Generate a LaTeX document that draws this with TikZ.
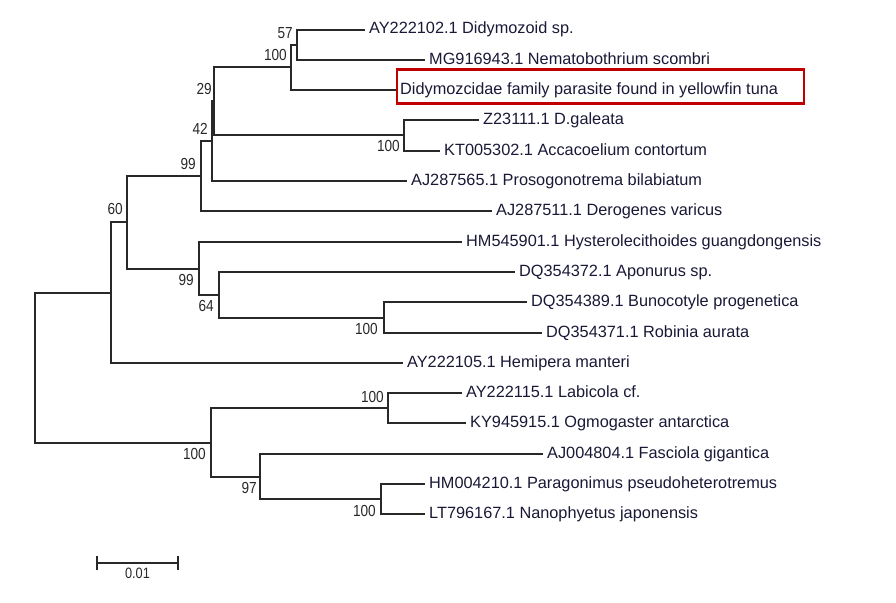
\documentclass[tikz,border=0pt]{standalone}
\usepackage{fontspec}
\setmainfont{Liberation Sans}
\newfontfamily\bsfont[FakeStretch=0.85]{Liberation Sans}
\usetikzlibrary{positioning}
\definecolor{treeline}{RGB}{40,40,40}
\definecolor{taxon}{RGB}{25,25,55}
\definecolor{hlred}{RGB}{192,0,0}

\begin{document}
\begin{tikzpicture}[
  x=1pt, y=-1pt,
  branch/.style={draw=treeline, line width=1.8pt},
  leaf/.style={
    anchor=west,
    inner xsep=4pt,
    inner ysep=0pt,
    text=taxon,
    font=\fontsize{16.3}{19}\selectfont,
    text height=11pt,
    text depth=3pt
  },
  bs/.style={
    inner sep=0pt,
    text=treeline,
    font=\bsfont\fontsize{16}{18}\selectfont,
    text height=11.5pt,
    text depth=0pt
  },
  hlbox/.style={
    draw=hlred,
    line width=2.6pt,
    minimum width=407pt,
    minimum height=34pt,
    inner sep=0pt
  }
]
\useasboundingbox (0,0) rectangle (896,602);

% -------- Internal nodes --------
\coordinate (root) at (35,367);
\coordinate (nK) at (111,293);
\coordinate (nG) at (127,222);
\coordinate (nF) at (201,176);
\coordinate (nE) at (212,141);
\coordinate (nC) at (214,101);
\coordinate (nB) at (291,67);
\coordinate (nA) at (297,45);
\coordinate (nD) at (404,135);
\coordinate (nH) at (199,269);
\coordinate (nI) at (219,295);
\coordinate (nJ) at (384,318);
\coordinate (nL) at (211,443);
\coordinate (nM) at (388,408);
\coordinate (nN) at (260,477);
\coordinate (nO) at (381,499);

% -------- Taxa --------
\node[leaf] (l1) at (365,30) {AY222102.1 Didymozoid sp.};
\node[leaf] (l2) at (425,60) {MG916943.1 Nematobothrium scombri};
\node[leaf] (l3) at (396,90) {Didymozcidae family parasite found in yellowfin tuna};
\node[leaf] (l4) at (479,120) {Z23111.1 D.galeata};
\node[leaf] (l5) at (440,151) {KT005302.1 Accacoelium contortum};
\node[leaf] (l6) at (407,181) {AJ287565.1 Prosogonotrema bilabiatum};
\node[leaf] (l7) at (492,211) {AJ287511.1 Derogenes varicus};
\node[leaf] (l8) at (462,242) {HM545901.1 Hysterolecithoides guangdongensis};
\node[leaf] (l9) at (515,272) {DQ354372.1 Aponurus sp.};
\node[leaf] (l10) at (527,302) {DQ354389.1 Bunocotyle progenetica};
\node[leaf] (l11) at (542,333) {DQ354371.1 Robinia aurata};
\node[leaf] (l12) at (403,363) {AY222105.1 Hemipera manteri};
\node[leaf] (l13) at (462,393) {AY222115.1 Labicola cf.};
\node[leaf] (l14) at (466,423) {KY945915.1 Ogmogaster antarctica};
\node[leaf] (l15) at (543,454) {AJ004804.1 Fasciola gigantica};
\node[leaf] (l16) at (425,484) {HM004210.1 Paragonimus pseudoheterotremus};
\node[leaf] (l17) at (425,514) {LT796167.1 Nanophyetus japonensis};

% -------- Branches --------
\draw[branch] (root) |- (nK);
\draw[branch] (root) |- (nL);
\draw[branch] (nK) |- (nG);
\draw[branch] (nK) |- (l12.west);
\draw[branch] (nG) |- (nF);
\draw[branch] (nG) |- (nH);
\draw[branch] (nF) |- (nE);
\draw[branch] (nF) |- (l7.west);
\draw[branch] (nE) |- (nC);
\draw[branch] (nE) |- (l6.west);
\draw[branch] (nC) |- (nB);
\draw[branch] (nC) |- (nD);
\draw[branch] (nB) |- (nA);
\draw[branch] (nB) |- (l3.west);
\draw[branch] (nA) |- (l1.west);
\draw[branch] (nA) |- (l2.west);
\draw[branch] (nD) |- (l4.west);
\draw[branch] (nD) |- (l5.west);
\draw[branch] (nH) |- (l8.west);
\draw[branch] (nH) |- (nI);
\draw[branch] (nI) |- (l9.west);
\draw[branch] (nI) |- (nJ);
\draw[branch] (nJ) |- (l10.west);
\draw[branch] (nJ) |- (l11.west);
\draw[branch] (nL) |- (nM);
\draw[branch] (nL) |- (nN);
\draw[branch] (nM) |- (l13.west);
\draw[branch] (nM) |- (l14.west);
\draw[branch] (nN) |- (l15.west);
\draw[branch] (nN) |- (nO);
\draw[branch] (nO) |- (l16.west);
\draw[branch] (nO) |- (l17.west);

% -------- Bootstrap values --------
\node[bs, above left=6pt and 4pt of nA] (bA) {57};
\node[bs, above left=6pt and 4pt of nB] (bB) {100};
\node[bs, above left=6pt and 2pt of nC] (bC) {29};
\node[bs, above left=6pt and 4pt of nE] (bE) {42};
\node[bs, above left=6pt and 5pt of nF] (bF) {99};
\node[bs, above left=7pt and 4pt of nG] (bG) {60};
\node[bs, below left=5pt and 4pt of nD] (bD) {100};
\node[bs, below left=5pt and 5pt of nH] (bH) {99};
\node[bs, below left=5pt and 5pt of nI] (bI) {64};
\node[bs, below left=5pt and 6pt of nJ] (bJ) {100};
\node[bs, above left=5pt and 4pt of nM] (bM) {100};
\node[bs, below left=5pt and 5pt of nL] (bL) {100};
\node[bs, below left=5pt and 3pt of nN] (bN) {97};
\node[bs, below left=6pt and 5pt of nO] (bO) {100};

% -------- Highlight --------
\node[hlbox] (hl) at (600.5,86.5) {};

% -------- Scale bar --------
\coordinate (sbL) at (97,563);
\coordinate (sbR) at (178,563);
\coordinate (sbM) at (137.5,563);
\draw[branch] (sbL) -- (sbR);
\draw[branch] ([yshift=7pt]sbL) -- ([yshift=-7pt]sbL);
\draw[branch] ([yshift=7pt]sbR) -- ([yshift=-7pt]sbR);
\node[bs, font=\bsfont\fontsize{15}{17}\selectfont, below=4pt of sbM] (sbt) {0.01};

\end{tikzpicture}
\end{document}
